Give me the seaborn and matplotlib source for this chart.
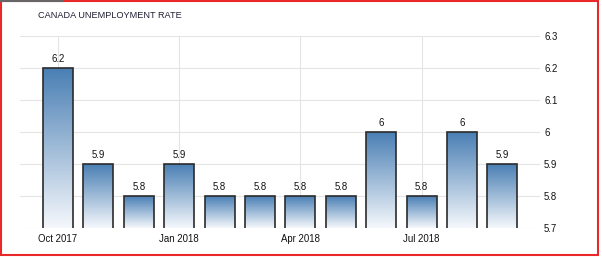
import numpy as np
import pandas as pd
import matplotlib
matplotlib.use("Agg")
import matplotlib.pyplot as plt
import seaborn as sns
from matplotlib.colors import LinearSegmentedColormap
from matplotlib.patches import Rectangle
from matplotlib.lines import Line2D

months = ["Oct 2017", "Nov 2017", "Dec 2017", "Jan 2018", "Feb 2018", "Mar 2018",
          "Apr 2018", "May 2018", "Jun 2018", "Jul 2018", "Aug 2018", "Sep 2018"]
rates = [6.2, 5.9, 5.8, 5.9, 5.8, 5.8, 5.8, 5.8, 6.0, 5.8, 6.0, 5.9]
bar_labels = ["6.2", "5.9", "5.8", "5.9", "5.8", "5.8", "5.8", "5.8", "6", "5.8", "6", "5.9"]
tick_months = ["Oct 2017", "Jan 2018", "Apr 2018", "Jul 2018"]
y_ticks = [5.7, 5.8, 5.9, 6.0, 6.1, 6.2, 6.3]
y_tick_labels = ["5.7", "5.8", "5.9", "6", "6.1", "6.2", "6.3"]
title = "CANADA UNEMPLOYMENT RATE"

df = pd.DataFrame({"month": months, "rate": rates})

sns.set_style("white")
plt.rcParams['font.family'] = ['Liberation Sans', 'DejaVu Sans']

FS = 6.9
fig = plt.figure(figsize=(6.02, 2.57), dpi=100)
ax = fig.add_axes([20/602, 1 - 228/257, 520/602, 192/257])

sns.barplot(data=df, x="month", y="rate", order=months, ax=ax,
            width=0.74, color="#4a80b5", edgecolor="#2b2b2b", linewidth=1.2)

base = 5.7
cmap = LinearSegmentedColormap.from_list("g", ["#f5f8fc", "#4a7fb4"])
grad = np.linspace(0, 1, 256).reshape(-1, 1)
for p in ax.patches:
    x0 = p.get_x(); w = p.get_width(); top = p.get_y() + p.get_height()
    p.set_facecolor("none")
    im = ax.imshow(grad, extent=[x0, x0 + w, base, top], origin="lower",
                   cmap=cmap, aspect="auto", zorder=2)
    im.set_clip_path(p)
    p.set_zorder(3)

for i, (v, lab) in enumerate(zip(rates, bar_labels)):
    ax.text(i, v + 0.012, lab, ha="center", va="bottom", fontsize=FS, color="#111111", zorder=4)

ax.set_ylim(base, 6.3)
ax.set_xlim(-0.94, 11.93)
ax.yaxis.tick_right()
ax.set_yticks(y_ticks)
ax.set_yticklabels(y_tick_labels)
ax.set_xticks([months.index(m) for m in tick_months])
ax.set_xticklabels(tick_months)
ax.tick_params(axis="both", length=0, labelsize=FS, colors="#111111")
ax.tick_params(axis="y", pad=3)
ax.tick_params(axis="x", pad=4)
ax.set_xlabel(""); ax.set_ylabel("")
for s in ax.spines.values():
    s.set_visible(False)
ax.grid(True, color="#e4e4e4", linewidth=0.8)
ax.set_axisbelow(True)

fig.text(38/602, 1 - 16/257, title, fontsize=6.6, color="#1f1f33", va="center", ha="left")

fig.patches.append(Rectangle((0.001, 0.006), 0.992, 0.99, transform=fig.transFigure,
                             fill=False, edgecolor="#e8282b", linewidth=1.5))
fig.lines.append(Line2D([0, 63/602], [0.998, 0.998], transform=fig.transFigure,
                        color="#666666", linewidth=1.5))

fig.savefig("out.png", dpi=100)
